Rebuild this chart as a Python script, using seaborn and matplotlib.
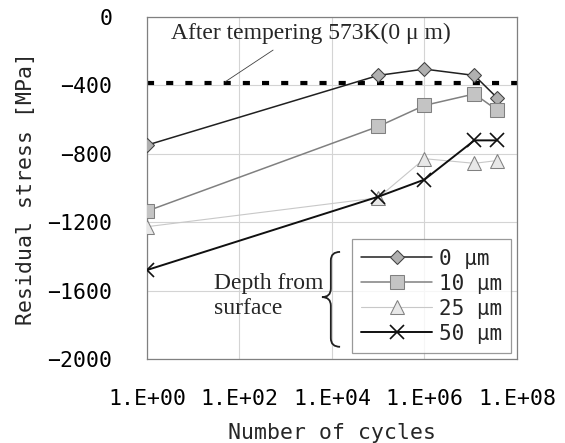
import numpy as np
import matplotlib
matplotlib.use("Agg")
import matplotlib.pyplot as plt
from matplotlib.path import Path
from matplotlib.patches import PathPatch
import pandas as pd
import seaborn as sns

# dane
cycles = [1, 1e5, 1e6, 1.2e7, 3.7e7]
s0 = [-749, -342, -305, -342, -472]
s10 = [-1134, -640, -517, -450, -544]
s25 = [-1225, -1056, -828, -855, -839]
s50 = [-1478, -1050, -950, -721, -721]
tempered = -385
depth_labels = ["0 μm", "10 μm", "25 μm", "50 μm"]
xticks = [1, 1e2, 1e4, 1e6, 1e8]
xticklabels = ["1.E+00", "1.E+02", "1.E+04", "1.E+06", "1.E+08"]
yticks = [0, -400, -800, -1200, -1600, -2000]

sns.set_theme(style="white")
plt.rcParams["font.family"] = ["DejaVu Sans Mono"]
serif = ["Liberation Serif", "DejaVu Serif"]

fig = plt.figure(figsize=(5.65, 4.43), dpi=100)
ax = fig.add_axes([0.260, 0.1885, 0.655, 0.7735])

series = [s0, s10, s25, s50]
styles = [
    dict(color="#202020", marker="D", markersize=7.2, markerfacecolor="#b0b0b0",
         markeredgecolor="#404040", linewidth=1.1),
    dict(color="#808080", marker="s", markersize=9.4, markerfacecolor="#c4c4c4",
         markeredgecolor="#808080", linewidth=1.1),
    dict(color="#c8c8c8", marker="^", markersize=10, markerfacecolor="#e8e8e8",
         markeredgecolor="#808080", linewidth=0.8),
    dict(color="#101010", marker="x", markersize=10, markeredgecolor="#101010",
         markeredgewidth=1.2, linewidth=1.4),
]
for vals, lab, st in zip(series, depth_labels, styles):
    df = pd.DataFrame({"cycles": cycles, "stress": vals})
    sns.lineplot(data=df, x="cycles", y="stress", ax=ax, label=lab, zorder=3, **st)

# linia po odpuszczaniu
ax.plot([1, 1e8], [tempered, tempered], color="black", linewidth=3.0,
        dashes=(1.7, 2.9), zorder=2, clip_on=False)

ax.set_xscale("log")
ax.set_xlim(1, 1e8)
ax.set_ylim(-2000, 0)
ax.set_xticks(xticks)
ax.set_xticklabels(xticklabels)
ax.xaxis.set_minor_locator(matplotlib.ticker.NullLocator())
ax.set_yticks(yticks)
ax.tick_params(axis="both", labelsize=15.5, length=0, colors="black")
ax.tick_params(axis="x", pad=21)
ax.tick_params(axis="y", pad=25)
ax.grid(True, color="#d4d4d4", linewidth=0.8)
for sp in ax.spines.values():
    sp.set_color("#808080")
    sp.set_linewidth(0.9)

ax.set_xlabel("Number of cycles", fontsize=15.5, labelpad=10)
ax.set_ylabel("Residual stress [MPa]", fontsize=15.5, labelpad=8)

leg = ax.legend(loc="lower right", bbox_to_anchor=(0.984, 0.019), fontsize=15,
                frameon=True, fancybox=False, edgecolor="#808080",
                handlelength=3.4, handletextpad=0.3, labelspacing=0.24,
                borderpad=0.45, borderaxespad=0)
leg.get_frame().set_linewidth(0.9)

ax.text(0.443, 0.952, "After tempering 573K(0 μ m)", transform=ax.transAxes,
        ha="center", va="center", fontsize=17, family=serif)
ax.plot([0.341, 0.211], [0.903, 0.81], transform=ax.transAxes,
        color="#404040", linewidth=0.6)
ax.text(0.182, 0.184, "Depth from\nsurface", transform=ax.transAxes,
        ha="left", va="center", fontsize=17, family=serif, linespacing=1.25)

# nawias klamrowy
xl, xm, xr = 0.473, 0.497, 0.522
yt, yc, yb = 0.314, 0.182, 0.037
d = 0.025
verts = [(xr, yt), (xm, yt), (xm, yt - d), (xm, yc + d), (xm, yc), (xl, yc),
         (xm, yc), (xm, yc - d), (xm, yb + d), (xm, yb), (xr, yb)]
codes = [Path.MOVETO, Path.CURVE3, Path.CURVE3, Path.LINETO, Path.CURVE3, Path.CURVE3,
         Path.CURVE3, Path.CURVE3, Path.LINETO, Path.CURVE3, Path.CURVE3]
ax.add_patch(PathPatch(Path(verts, codes), transform=ax.transAxes, fill=False,
                       edgecolor="#202020", linewidth=1.3, clip_on=False))

fig.savefig("out.png", dpi=100)
